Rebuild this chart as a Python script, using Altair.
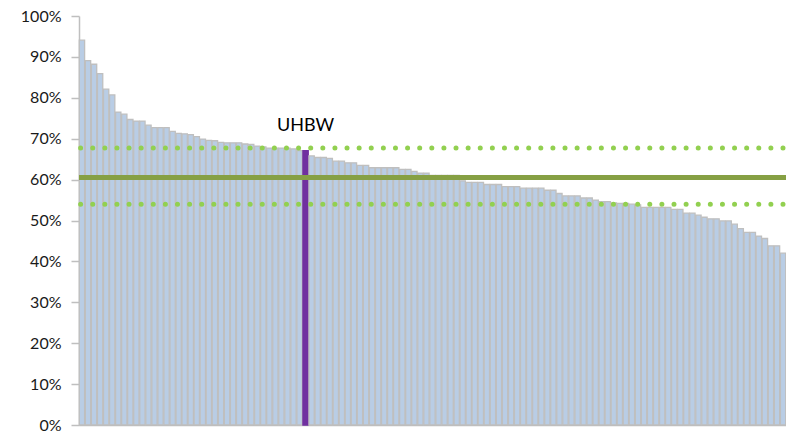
import altair as alt
import pandas as pd

values = [94.1, 89.1, 88.2, 85.9, 82.1, 80.7, 76.5, 76.0, 74.7, 74.3,
          74.3, 73.3, 72.7, 72.7, 72.7, 71.8, 71.3, 71.2, 71.0, 70.5,
          69.9, 69.6, 69.5, 69.1, 69.0, 69.0, 69.0, 68.7, 68.6, 68.2,
          68.0, 67.7, 67.7, 67.7, 67.7, 67.5, 67.1, 67.1, 65.8, 65.4,
          65.4, 65.2, 64.5, 64.5, 64.1, 64.1, 63.5, 63.5, 62.9, 62.9,
          62.9, 62.9, 62.9, 62.5, 62.5, 62.0, 61.6, 61.6, 61.0, 61.0,
          61.0, 61.0, 61.0, 59.7, 59.3, 59.3, 59.3, 58.8, 58.8, 58.8,
          58.3, 58.3, 58.3, 57.9, 57.9, 57.9, 57.9, 57.4, 57.4, 56.6,
          56.0, 56.0, 56.0, 55.5, 55.5, 55.0, 54.6, 54.6, 54.3, 54.2,
          54.2, 54.0, 53.8, 53.2, 53.2, 53.2, 53.2, 53.2, 52.7, 52.7,
          51.8, 51.8, 51.3, 50.8, 50.4, 50.4, 49.9, 49.9, 49.1, 48.0,
          47.1, 47.1, 46.2, 45.6, 43.8, 43.8, 42.0]
highlight_index = 37
highlight_label = "UHBW"
mean_value = 60.5
upper_value = 67.7
lower_value = 54.0

df = pd.DataFrame({
    "idx": list(range(len(values))),
    "value": [v / 100 for v in values],
    "hl": [i == highlight_index for i in range(len(values))],
})

font = "Lato"

x_enc = alt.X("idx:O",
              scale=alt.Scale(paddingInner=0.12, paddingOuter=0.05),
              axis=alt.Axis(labels=False, ticks=False, title=None,
                            domainColor="#BFBFBF", domainWidth=1.5))
y_scale = alt.Scale(domain=[0, 1], nice=False)

bars = alt.Chart(df).mark_bar(strokeWidth=1.3).encode(
    x=x_enc,
    y=alt.Y("value:Q", scale=y_scale,
            axis=alt.Axis(values=[i / 10 for i in range(11)], format=".0%",
                          title=None, grid=False, domainColor="#BFBFBF",
                          domainWidth=1.5, tickColor="#BFBFBF", tickWidth=1.5,
                          tickSize=8, labelPadding=10, labelFont=font,
                          labelFontSize=16, labelColor="#1a1a1a")),
    fill=alt.condition("datum.hl", alt.value("#7030A0"), alt.value("#B9CDE5")),
    stroke=alt.condition("datum.hl", alt.value("#7030A0"), alt.value("#BFBFBF")),
)

lines_df = pd.DataFrame({"v": [mean_value / 100]})
dots_df = pd.DataFrame({"v": [upper_value / 100, lower_value / 100]})

solid = alt.Chart(lines_df).mark_rule(color="#86A044", strokeWidth=5).encode(
    y=alt.Y("v:Q", scale=y_scale)
)
dotted = alt.Chart(dots_df).mark_rule(
    color="#92D050", strokeWidth=5, strokeCap="round",
    strokeDash=[0.01, 12.1], strokeDashOffset=-3
).encode(y=alt.Y("v:Q", scale=y_scale))

label = alt.Chart(df[df["hl"]]).mark_text(
    font=font, fontSize=18, baseline="bottom", dy=-16, color="#000000"
).encode(
    x="idx:O",
    y=alt.Y("value:Q", scale=y_scale),
    text=alt.value(highlight_label),
)

chart = alt.layer(bars, solid, dotted, label).properties(
    width=707, height=409,
    autosize=alt.AutoSizeParams(type="none"),
    padding={"left": 79, "top": 16, "right": 0, "bottom": 9},
).configure_view(stroke=None)

chart.save("out.html", embed_options={"renderer": "svg", "actions": False})
